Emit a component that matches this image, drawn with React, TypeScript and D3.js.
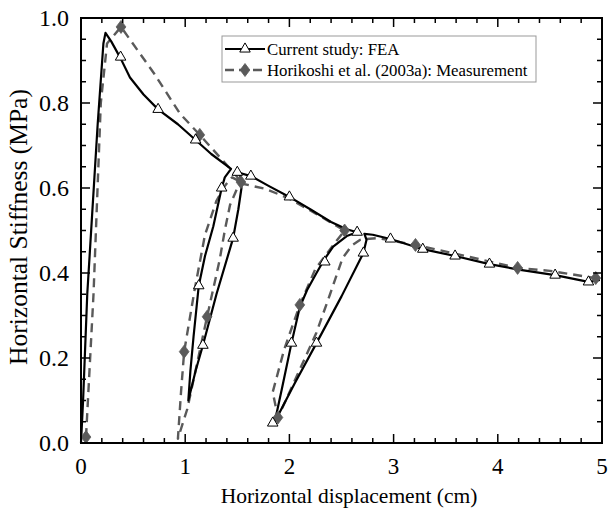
import React from "react";
import * as d3 from "d3";

type P = [number, number];

const xTicks = [0, 1, 2, 3, 4, 5];
const yTicks = [0, 0.2, 0.4, 0.6, 0.8, 1.0];

const feaLine: P[] = [
  [0, 0], [0.02, 0.1], [0.06, 0.35], [0.16, 0.75], [0.215, 0.94], [0.235, 0.965], [0.29, 0.945],
  [0.38, 0.905], [0.47, 0.86], [0.6, 0.82], [0.74, 0.785], [0.93, 0.75], [1.1, 0.713], [1.25, 0.68], [1.44, 0.645],
  [1.38, 0.625], [1.35, 0.6], [1.27, 0.51], [1.19, 0.44], [1.13, 0.37], [1.08, 0.25], [1.05, 0.17], [1.03, 0.1],
  [1.1, 0.17], [1.17, 0.23], [1.3, 0.35], [1.46, 0.482], [1.51, 0.55], [1.54, 0.6], [1.53, 0.628], [1.5, 0.637],
  [1.63, 0.628], [1.8, 0.605], [2.0, 0.579], [2.2, 0.55], [2.4, 0.52], [2.55, 0.503], [2.65, 0.496],
  [2.55, 0.487], [2.42, 0.462], [2.33, 0.43], [2.26, 0.4], [2.17, 0.36], [2.1, 0.32], [2.02, 0.235], [1.93, 0.13], [1.86, 0.05],
  [2.05, 0.14], [2.26, 0.235], [2.5, 0.345], [2.71, 0.447], [2.74, 0.478], [2.72, 0.492],
  [2.8, 0.49], [2.97, 0.48], [3.28, 0.456], [3.59, 0.44], [3.92, 0.421], [4.2, 0.408], [4.55, 0.395], [4.87, 0.379], [4.98, 0.384],
];

const feaMarkers: P[] = [
  [0.38, 0.908], [0.74, 0.785], [1.1, 0.713], [1.35, 0.6], [1.5, 0.637], [1.63, 0.628], [1.46, 0.482],
  [1.13, 0.37], [1.17, 0.23], [2.0, 0.579], [2.65, 0.496], [2.71, 0.447], [2.34, 0.426], [2.02, 0.235],
  [2.26, 0.235], [1.84, 0.047], [2.97, 0.48], [3.28, 0.456], [3.59, 0.44], [3.92, 0.421], [4.55, 0.395], [4.87, 0.379],
];

const measLine: P[] = [
  [0.048, 0.014], [0.12, 0.35], [0.19, 0.8], [0.25, 0.94], [0.384, 0.979], [0.7, 0.87], [0.95, 0.775],
  [1.14, 0.725], [1.33, 0.673], [1.48, 0.632], [1.535, 0.614],
  [1.45, 0.625], [1.38, 0.605], [1.3, 0.57], [1.19, 0.49], [1.09, 0.36], [0.99, 0.215], [0.96, 0.12], [0.93, 0.01],
  [1.02, 0.08], [1.21, 0.297], [1.33, 0.43], [1.38, 0.5], [1.43, 0.56], [1.5, 0.6], [1.55, 0.61],
  [1.77, 0.598], [2.0, 0.575], [2.25, 0.54], [2.53, 0.5],
  [2.45, 0.475], [2.25, 0.41], [2.1, 0.325], [1.95, 0.22], [1.84, 0.12], [1.89, 0.06],
  [2.15, 0.2], [2.26, 0.26], [2.39, 0.35], [2.51, 0.435], [2.6, 0.465], [2.68, 0.478], [2.74, 0.48],
  [2.85, 0.482], [3.21, 0.466], [3.6, 0.445], [4.19, 0.412], [4.5, 0.405], [4.94, 0.388],
];

const measMarkers: P[] = [
  [0.048, 0.014], [0.384, 0.979], [1.14, 0.725], [1.535, 0.614], [0.99, 0.215], [1.21, 0.297],
  [2.53, 0.5], [2.1, 0.325], [1.89, 0.06], [3.21, 0.466], [4.19, 0.412], [4.94, 0.388],
];

const legendLabels = ["Current study: FEA", "Horikoshi et al. (2003a): Measurement"];

const W = 609, H = 513;
const L = 81, R = 602, T = 18, B = 443;
const FONT = "Liberation Serif";
const GREY = "#5a5a5a";

export default function App() {
  const x = d3.scaleLinear().domain([0, 5]).range([L, R]);
  const y = d3.scaleLinear().domain([0, 1]).range([B, T]);
  const line = d3.line<P>().x(d => x(d[0])).y(d => y(d[1])).curve(d3.curveLinear);
  const tri = d3.symbol().type(d3.symbolTriangle).size(48)()!;
  const dia = (s: number) => `M0,${-s}L${s * 0.75},0L0,${s}L${-s * 0.75},0Z`;

  const xMinor = d3.range(0, 5.0001, 0.2);
  const yMinor = d3.range(0, 1.0001, 0.05);

  return (
    <svg width={W} height={H} fontFamily={FONT} style={{ display: "block", position: "absolute", left: 0, top: 0 }}>
      <rect width={W} height={H} fill="#fff" />
      <path d={line(measLine)!} fill="none" stroke={GREY} strokeWidth={2.4} strokeDasharray="9,6" strokeLinejoin="round" />
      <path d={line(feaLine)!} fill="none" stroke="#000" strokeWidth={2.2} strokeLinejoin="round" />
      {measMarkers.map((d, i) => (
        <path key={"m" + i} d={dia(6.5)} transform={`translate(${x(d[0])},${y(d[1])})`} fill={GREY} stroke={GREY} strokeWidth={0.8} />
      ))}
      {feaMarkers.map((d, i) => (
        <path key={"f" + i} d={tri} transform={`translate(${x(d[0])},${y(d[1])})`} fill="#fff" stroke="#000" strokeWidth={1} />
      ))}
      <rect x={L} y={T} width={R - L} height={B - T} fill="none" stroke="#000" strokeWidth={2} />
      {xMinor.map((v, i) => {
        const major = Math.abs(v - Math.round(v)) < 1e-6;
        const len = major ? 9 : 5;
        return (
          <g key={"xt" + i} stroke="#000" strokeWidth={1.5}>
            <line x1={x(v)} x2={x(v)} y1={B} y2={B - len} />
            <line x1={x(v)} x2={x(v)} y1={T} y2={T + len} />
          </g>
        );
      })}
      {yMinor.map((v, i) => {
        const major = Math.abs(v * 5 - Math.round(v * 5)) < 1e-6;
        const len = major ? 9 : 5;
        return (
          <g key={"yt" + i} stroke="#000" strokeWidth={1.5}>
            <line x1={L} x2={L + len} y1={y(v)} y2={y(v)} />
            <line x1={R} x2={R - len} y1={y(v)} y2={y(v)} />
          </g>
        );
      })}
      {xTicks.map(v => (
        <text key={"xl" + v} x={x(v)} y={474} textAnchor="middle" fontFamily={FONT} fontSize={23}>{v}</text>
      ))}
      {yTicks.map(v => (
        <text key={"yl" + v} x={69} y={y(v) + 8} textAnchor="end" fontFamily={FONT} fontSize={24}>{v.toFixed(1)}</text>
      ))}
      <text x={349} y={503} textAnchor="middle" fontFamily={FONT} fontSize={21.5}>Horizontal displacement (cm)</text>
      <text transform={`translate(27,227) rotate(-90)`} textAnchor="middle" fontFamily={FONT} fontSize={25.5}>Horizontal Stiffness (MPa)</text>
      <rect x={222} y={36} width={314} height={46} fill="#fff" stroke="#999" strokeWidth={1} />
      <line x1={225} x2={265} y1={49} y2={49} stroke="#000" strokeWidth={2.2} />
      <path d={tri} transform="translate(245,49)" fill="#fff" stroke="#000" strokeWidth={1} />
      <line x1={225} x2={265} y1={70} y2={70} stroke={GREY} strokeWidth={2.4} strokeDasharray="9,5" />
      <path d={dia(6.5)} transform="translate(245,70)" fill={GREY} stroke={GREY} strokeWidth={0.8} />
      <text x={267} y={55} fontFamily={FONT} fontSize={16.8}>{legendLabels[0]}</text>
      <text x={267} y={76} fontFamily={FONT} fontSize={16.8}>{legendLabels[1]}</text>
    </svg>
  );
}
